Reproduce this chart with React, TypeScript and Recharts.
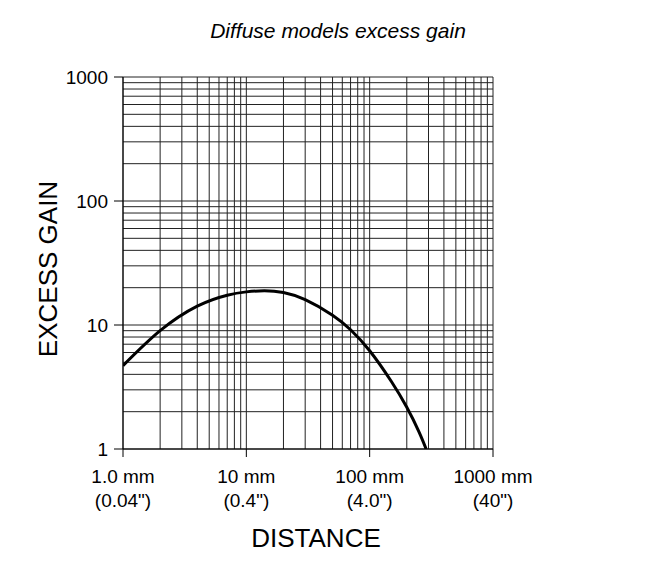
import React from "react";
import { LineChart, Line, XAxis, YAxis, ReferenceLine } from "recharts";

const distanceMm = [1, 2, 4, 7, 10, 14, 20, 30, 50, 70, 100, 150, 200, 250, 287];
const excessGain = [4.7, 9.0, 14.2, 17.4, 18.5, 18.9, 18.3, 16.0, 12.0, 9.15, 6.2, 3.5, 2.17, 1.39, 1.0];

const majorTicks = [1, 10, 100, 1000];
const xTickMm = ["1.0 mm", "10 mm", "100 mm", "1000 mm"];
const xTickIn = ['(0.04")', '(0.4")', '(4.0")', '(40")'];
const yTickLabels = ["1", "10", "100", "1000"];
const gridMultipliers = [1, 2, 3, 4, 5, 6, 7, 8, 9];

const gridValues: number[] = [];
[1, 10, 100].forEach((d) => gridMultipliers.forEach((m) => gridValues.push(d * m)));
gridValues.push(1000);

const data = distanceMm.map((x, i) => ({ x, y: excessGain[i] }));

const FONT = '"Liberation Sans", Arial, sans-serif';

const XTick = (props: any) => {
  const { x, y, payload } = props;
  const i = majorTicks.indexOf(payload.value);
  return (
    <g transform={`translate(${x},${y})`}>
      <text textAnchor="middle" fontFamily={FONT} fontSize={19} fill="#000">
        <tspan x={0} y={24}>{xTickMm[i]}</tspan>
        <tspan x={0} y={48}>{xTickIn[i]}</tspan>
      </text>
    </g>
  );
};

const YTick = (props: any) => {
  const { x, y, payload } = props;
  const i = majorTicks.indexOf(payload.value);
  return (
    <text
      x={x}
      y={y}
      dy={6.5}
      textAnchor="end"
      fontFamily={FONT}
      fontSize={19}
      fill="#000"
    >
      {yTickLabels[i]}
    </text>
  );
};

export default function App() {
  return (
    <div
      style={{
        position: "relative",
        width: 654,
        height: 569,
        fontFamily: FONT,
      }}
    >
      <div
        style={{
          position: "absolute",
          left: -4,
          top: -5,
          width: 700,
          height: 600,
          borderTop: "2px solid #e8e8e8",
          borderLeft: "2px solid #e8e8e8",
          boxSizing: "border-box",
        }}
      />
      <LineChart
        width={654}
        height={569}
        data={data}
        margin={{ top: 69, right: 169, bottom: 58, left: 0 }}
      >
        {gridValues.map((v) => (
          <ReferenceLine key={"vx" + v} x={v} stroke="#222" strokeWidth={1} />
        ))}
        {gridValues.map((v) => (
          <ReferenceLine key={"hy" + v} y={v} stroke="#222" strokeWidth={1} />
        ))}
        <XAxis
          dataKey="x"
          type="number"
          scale="log"
          domain={[1, 1000]}
          ticks={majorTicks}
          allowDataOverflow
          height={70}
          tickSize={8}
          tickLine={{ stroke: "#000" }}
          axisLine={{ stroke: "#000" }}
          tick={<XTick />}
          interval={0}
        />
        <YAxis
          dataKey="y"
          type="number"
          scale="log"
          domain={[1, 1000]}
          ticks={majorTicks}
          allowDataOverflow
          width={115}
          tickSize={9}
          tickMargin={6}
          tickLine={{ stroke: "#000" }}
          axisLine={{ stroke: "#000" }}
          tick={<YTick />}
          interval={0}
        />
        <Line
          dataKey="y"
          type="natural"
          stroke="#000"
          strokeWidth={3}
          dot={false}
          isAnimationActive={false}
        />
      </LineChart>
      <svg
        width={654}
        height={569}
        style={{ position: "absolute", left: 0, top: 0, pointerEvents: "none" }}
      >
        <text
          x={330}
          y={30}
          textAnchor="middle"
          fontFamily={FONT}
          fontSize={21}
          fontStyle="italic"
          fill="#000"
        >
          Diffuse models excess gain
        </text>
        <text
          transform="translate(49,261) rotate(-90)"
          textAnchor="middle"
          fontFamily={FONT}
          fontSize={26}
          fill="#000"
        >
          EXCESS GAIN
        </text>
        <text
          x={308}
          y={539}
          textAnchor="middle"
          fontFamily={FONT}
          fontSize={26}
          fill="#000"
        >
          DISTANCE
        </text>
      </svg>
    </div>
  );
}
